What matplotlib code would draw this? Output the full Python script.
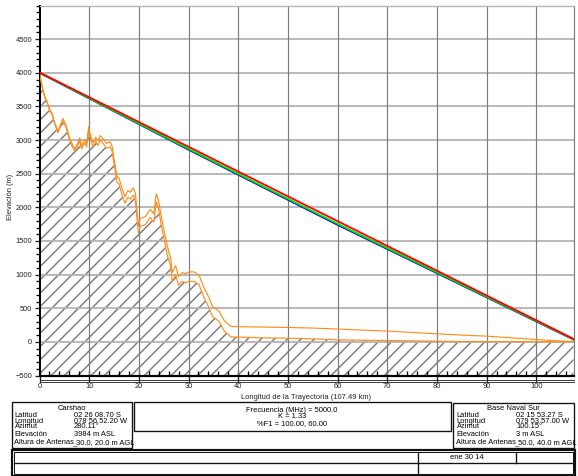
import matplotlib
matplotlib.use('Agg')
import matplotlib.pyplot as plt
from matplotlib.patches import Rectangle
from matplotlib.ticker import MultipleLocator

plt.rcParams['font.family'] = ['Liberation Sans', 'DejaVu Sans']
plt.rcParams['hatch.linewidth'] = 0.9
plt.rcParams['hatch.color'] = '#7e7e7e'

# Perfil del terreno (km, m)
dist_km = [0, 0.5, 1, 1.5, 2, 2.5, 3, 3.7, 4.2, 4.7, 5.3, 6, 6.6, 7.1, 7.6, 8.1, 8.5,
           9.1, 9.5, 9.9, 10.3, 10.8, 11.3, 11.8, 12.2, 12.8, 13.5, 14.2, 14.6, 15.2,
           15.6, 16.0, 16.6, 17.2, 17.8, 18.3, 18.9, 19.3, 19.9, 20.3, 21.3, 22.3, 23.0,
           23.5, 23.9, 24.7, 25.7, 26.4, 26.7, 27.4, 28.0, 28.7, 29.4, 30.1, 31.1, 32.1,
           33.1, 34.1, 34.8, 36.2, 37.2, 38.5, 40.6, 45, 49.3, 55, 60.2, 65, 70, 75, 80,
           85, 90, 95, 100, 104, 107.49]
terreno = [3990, 3800, 3650, 3560, 3450, 3380, 3250, 3110, 3200, 3290, 3200, 3010, 2900,
           2830, 2900, 2990, 2870, 2960, 2900, 3150, 3000, 2900, 2980, 2920, 3000, 2950,
           2880, 2900, 2830, 2560, 2370, 2350, 2190, 2060, 2150, 2120, 2180, 2100, 1620,
           1720, 1740, 1850, 1780, 2080, 2000, 1660, 1300, 1120, 900, 1000, 840, 900, 880,
           900, 900, 850, 660, 510, 380, 300, 160, 75, 70, 60, 55, 45, 30, 25, 20, 15, 10,
           5, 5, 3, 2, 0, 3]
terreno_k = [4000, 3805, 3660, 3575, 3465, 3395, 3270, 3130, 3225, 3320, 3230, 3045, 2935,
             2870, 2940, 3030, 2915, 3005, 2950, 3200, 3055, 2960, 3040, 2985, 3065, 3020,
             2950, 2975, 2910, 2640, 2455, 2440, 2285, 2160, 2250, 2225, 2290, 2210, 1730,
             1835, 1860, 1970, 1905, 2200, 2120, 1790, 1430, 1250, 1030, 1130, 970, 1030,
             1015, 1040, 1040, 995, 805, 660, 530, 450, 315, 230, 225, 220, 215, 205, 190,
             175, 160, 140, 120, 100, 85, 60, 35, 15, 5]

# Lineas de vista
rayo_km = [0, 30, 60, 107.49]
rayo_rojo = [4005, 2900, 1795, 45]
rayo_verde = [4000, 2868, 1755, 38]
rayo_azul = [3998, 2855, 1738, 33]

W, H = 578, 476
fig = plt.figure(figsize=(W / 120, H / 120), dpi=120)
ax = fig.add_axes([39.5 / W, 1 - 375.5 / H, 534 / W, 370 / H])

ax.fill_between(dist_km, terreno, -500, facecolor='white', edgecolor='#7e7e7e',
                hatch='///', linewidth=0, zorder=1)
ax.plot(dist_km, terreno, color='#ff8c1a', lw=0.7, zorder=4)
ax.plot(dist_km, terreno_k, color='#ff8c1a', lw=0.7, zorder=4)
ax.plot(rayo_km, rayo_azul, color='#0000ff', lw=1.0, zorder=5)
ax.plot(rayo_km, rayo_verde, color='#00e000', lw=1.1, zorder=6)
ax.plot(rayo_km, rayo_rojo, color='#ff0000', lw=1.1, zorder=7)

ax.set_xlim(0, 107.49)
ax.set_ylim(-500, 5000)
ax.set_xticks(range(0, 101, 10))
ax.set_yticks(range(-500, 4501, 500))
ax.xaxis.set_minor_locator(MultipleLocator(2))
ax.yaxis.set_minor_locator(MultipleLocator(100))
ax.tick_params(axis='x', which='major', direction='inout', length=7, width=0.8,
               labelsize=4.5, pad=1, colors='#222222')
ax.tick_params(axis='x', which='minor', direction='in', length=3, width=0.8)
ax.tick_params(axis='y', which='major', direction='out', length=3, width=0.8,
               labelsize=4.5, pad=1.5, colors='#222222')
ax.tick_params(axis='y', which='minor', direction='out', length=2.2, width=0.8)

for y in range(-500, 5001, 500):
    ax.axhline(y, color='#b4b4b4', lw=1.1, zorder=2)
for x in range(10, 101, 10):
    ax.axvline(x, color='#7c7c7c', lw=0.7, zorder=2)

ax.spines['left'].set_linewidth(1.2)
ax.spines['bottom'].set_linewidth(1.3)
ax.spines['top'].set_color('#b4b4b4')
ax.spines['right'].set_color('#7c7c7c')
ax.spines['right'].set_linewidth(0.7)

ax.set_ylabel('Elevación (m)', fontsize=4.5, color='#222222')
ax.yaxis.set_label_coords(-0.048, 0.482)

# Capa en pixeles para textos y cuadros
ov = fig.add_axes([0, 0, 1, 1], zorder=-1)
ov.set_xlim(0, W)
ov.set_ylim(H, 0)
ov.axis('off')

ov.plot([39.5, 573.5], [379.5, 379.5], color='#444444', lw=0.6)
ov.plot([39.5, 573.5], [381.5, 381.5], color='#444444', lw=0.6)
ov.text(306, 397.5, 'Longitud de la Trayectoria (107.49 km)', fontsize=4.5,
        ha='center', va='center', color='#222222')

def caja(x0, y0, x1, y1, lw=0.8):
    ov.add_patch(Rectangle((x0, y0), x1 - x0, y1 - y0, fill=False,
                           edgecolor='#111111', lw=lw))

fs = 4.5
# Estacion 1
caja(12, 402, 132, 448)
ov.text(72, 408.5, 'Carshao', fontsize=fs, ha='center', va='center')
etiquetas = ['Latitud', 'Longitud', 'Azimut', 'Elevación', 'Altura de Antenas']
filas_y = [415.5, 421.5, 427, 435, 442.5]
valores1 = ['02 26 08.70 S', '078 56 52.20 W', '280.11°', '3984 m ASL', '_30.0, 20.0 m AGL']
for e, v, y in zip(etiquetas, valores1, filas_y):
    ov.text(14.5, y, e, fontsize=fs, ha='left', va='center')
    ov.text(72 if v.startswith('_') else 73.5, y, v, fontsize=fs, ha='left', va='center')

# Parametros
caja(134, 402, 451, 431)
ov.text(292, 410, 'Frecuencia (MHz) = 5000.0', fontsize=fs, ha='center', va='center')
ov.text(292, 416.5, 'K = 1.33', fontsize=fs, ha='center', va='center')
ov.text(292, 423.5, '%F1 = 100.00, 60.00', fontsize=fs, ha='center', va='center')

# Estacion 2
caja(453, 403, 574, 447.5)
ov.text(513, 408.5, 'Base Naval Sur', fontsize=fs, ha='center', va='center')
valores2 = ['02 15 53.27 S', '079 53 57.00 W', '100.15°', '3 m ASL', '_50.0, 40.0 m AGL']
for e, v, y in zip(etiquetas, valores2, filas_y):
    ov.text(456.5, y, e, fontsize=fs, ha='left', va='center')
    ov.text(514.5 if v.startswith('_') else 516, y, v, fontsize=fs, ha='left', va='center')

# Cuadro inferior
caja(11.5, 449.5, 575, 475.5, lw=1.3)
caja(14, 452, 572.5, 473.5, lw=0.6)
ov.plot([14, 572.5], [463, 463], color='#111111', lw=0.8)
ov.plot([418, 418], [452, 473.5], color='#111111', lw=0.8)
ov.plot([516, 516], [452, 463], color='#111111', lw=0.8)
ov.text(467, 457.5, 'ene 30 14', fontsize=fs, ha='center', va='center')

plt.savefig('out.png', dpi=120)
plt.close()
